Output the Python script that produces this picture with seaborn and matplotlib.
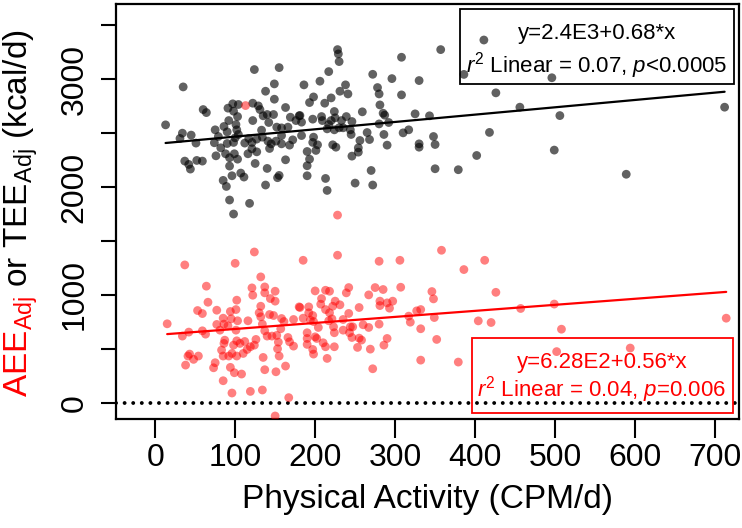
import matplotlib
matplotlib.use("Agg")
import matplotlib.pyplot as plt
from matplotlib.patches import Rectangle
import seaborn as sns

# TEE_Adj (black) vs physical activity
tee_x = [124, 155, 35, 149, 138, 149, 60, 64, 97, 104, 91, 122, 129, 131, 98, 163, 103, 135, 140, 148,
         169, 180, 176, 13, 92, 86, 101, 102, 122, 142, 152, 158, 166, 133, 34, 45, 31, 75, 79, 90,
         100, 104, 117, 112, 121, 127, 134, 141, 145, 151, 158, 172, 168, 158, 51, 74, 82, 90, 98, 143,
         76, 88, 99, 116, 127, 103, 93, 121, 37, 52, 59, 42, 44, 93, 125, 140, 163, 85, 89, 96,
         107, 111, 138, 153, 155, 93, 118, 98,
         228, 229, 230, 308, 357, 217, 272, 186, 206, 238, 296, 330, 278, 280, 198, 193, 220, 231, 241, 308,
         212, 281, 259, 224, 285, 287, 325, 343, 181, 183, 197, 208, 209, 225, 220, 217, 215, 233, 239, 246,
         235, 244, 245, 280, 292, 286, 265, 268, 256, 254, 254, 246, 317, 310, 290, 330, 330, 350, 348, 183,
         198, 197, 203, 201, 190, 193, 190, 190, 222, 226, 213, 215, 250, 272, 270, 350, 379, 230, 224,
         411, 386, 402, 418, 426, 456, 496, 499, 506, 589, 712]
tee_y = [3090, 3108, 2929, 2957, 2889, 2815, 2719, 2691, 2772, 2766, 2732, 2778, 2753, 2719, 2704, 2738, 2654, 2661, 2673, 2673,
         2648, 2661, 2617, 2577, 2617, 2562, 2580, 2531, 2617, 2599, 2556, 2549, 2556, 2528, 2500, 2482, 2451, 2531, 2469, 2512,
         2457, 2488, 2451, 2408, 2414, 2445, 2463, 2426, 2401, 2426, 2478, 2438, 2389, 2401, 2408, 2411, 2364, 2404, 2414, 2358,
         2290, 2309, 2309, 2309, 2327, 2259, 2272, 2355, 2241, 2247, 2241, 2210, 2167, 2195, 2219, 2173, 2253, 2062, 2006, 2105,
         2130, 2093, 2019, 2087, 2108, 1880, 1849, 1750,
         3275, 3235, 3164, 3204, 3275, 3071, 3046, 2948, 2982, 2948, 3006, 2988, 2923, 2864, 2836, 2784, 2827, 2889, 2864, 2855,
         2778, 2762, 2698, 2701, 2685, 2667, 2679, 2661, 2664, 2602, 2630, 2654, 2617, 2642, 2617, 2580, 2540, 2617, 2654, 2608,
         2550, 2531, 2488, 2586, 2599, 2488, 2506, 2441, 2432, 2364, 2324, 2287, 2531, 2503, 2389, 2401, 2370, 2395, 2469, 2478,
         2463, 2414, 2392, 2340, 2330, 2259, 2198, 2105, 2392, 2370, 2080, 1969, 2037, 2019, 2154, 2170, 2161, 2550, 2531,
         3364, 3045, 2293, 2507, 2874, 2741, 3014, 2343, 2663, 2119, 2741]

# AEE_Adj (red) vs physical activity
aee_x = [124, 37, 100, 64, 132, 137, 121, 137, 122, 150, 144, 150, 66, 53, 59, 77, 102, 101, 94, 132,
         130, 143, 132, 180, 15, 34, 42, 59, 63, 85, 86, 95, 103, 91, 101, 81, 77, 116, 134, 137,
         148, 158, 161, 157, 173, 140, 146, 152, 166, 168, 173, 87, 86, 102, 112, 98, 106, 126, 124, 119,
         115, 154, 153, 155, 83, 85, 92, 96, 102, 110, 43, 41, 48, 54, 38, 75, 73, 94, 99, 108,
         135, 137, 151, 163, 85, 96, 119, 134, 167, 150,
         185, 228, 280, 306, 358, 200, 213, 218, 239, 242, 275, 285, 267, 307, 346, 348, 208, 207, 225, 222,
         231, 281, 281, 290, 297, 293, 255, 181, 192, 192, 197, 185, 194, 213, 218, 242, 235, 217, 221, 223,
         204, 198, 244, 247, 235, 243, 260, 267, 280, 224, 224, 246, 255, 258, 253, 269, 286, 290, 190, 190,
         190, 200, 202, 210, 213, 197, 198, 215, 272, 317, 319, 327, 332, 349, 332, 352, 332, 379,
         113, 228, 386, 412, 426, 404, 420, 457, 499, 508, 502, 594, 714]
aee_y = [1398, 1278, 1293, 1081, 1167, 1074, 1065, 1019, 997, 1034, 966, 942, 932, 855, 827, 858, 951, 864, 846, 895,
         834, 818, 797, 889, 732, 618, 655, 667, 636, 784, 729, 778, 760, 713, 673, 673, 726, 760, 729, 667,
         809, 781, 753, 686, 772, 618, 618, 624, 605, 565, 525, 580, 550, 574, 568, 534, 550, 587, 534, 519,
         494, 562, 500, 433, 488, 433, 433, 457, 433, 457, 451, 433, 402, 433, 349, 371, 324, 328, 278, 266,
         420, 306, 287, 340, 204, 90, 105, 118, 47, -123,
         1321, 1368, 1312, 1321, 1414, 1037, 1043, 1034, 1019, 1068, 1068, 1050, 1000, 1071, 1031, 963, 966, 914, 942, 895,
         908, 942, 901, 926, 942, 877, 883, 883, 889, 834, 809, 784, 766, 864, 834, 828, 772, 760, 778, 704,
         698, 753, 704, 704, 673, 649, 723, 698, 729, 649, 519, 605, 599, 581, 513, 497, 534, 596, 649, 596,
         541, 611, 596, 556, 519, 494, 451, 411, 315, 803, 747, 852, 864, 790, 686, 587, 395, 377,
         2756, 1740, 1235, 1321, 1024, 759, 744, 874, 915, 682, 474, 507, 784]

# regression results printed on the chart
tee_fit = (2400, 0.68)
aee_fit = (628, 0.56)
tee_text = ["y=2.4E3+0.68*x", r"$\mathit{r}^{2}$ Linear = 0.07, $\mathit{p}$<0.0005"]
aee_text = ["y=6.28E2+0.56*x", r"$\mathit{r}^{2}$ Linear = 0.04, $\mathit{p}$=0.006"]

x_ticks = [0, 100, 200, 300, 400, 500, 600, 700]
y_ticks = [0, 500, 1000, 1500, 2000, 2500, 3000, 3500]
y_tick_labels = ["0", "", "1000", "", "2000", "", "3000", ""]

RED = "#ff0000"

sns.set_style("ticks")
plt.rcParams["font.family"] = ["Liberation Sans", "DejaVu Sans"]
plt.rcParams["mathtext.fontset"] = "custom"
plt.rcParams["mathtext.rm"] = "Liberation Sans"
plt.rcParams["mathtext.it"] = "Liberation Sans:italic"
for key in ["text.color", "axes.labelcolor", "xtick.color", "ytick.color", "axes.edgecolor"]:
    plt.rcParams[key] = "black"

fig = plt.figure(figsize=(7.42, 5.28), dpi=100)
ax = fig.add_axes([116 / 742, 1 - 419 / 528, 623 / 742, 415 / 528])

sns.scatterplot(x=tee_x, y=tee_y, color="black", alpha=0.62, s=40, edgecolor="none", ax=ax, zorder=3)
sns.scatterplot(x=aee_x, y=aee_y, color=RED, alpha=0.5, s=40, edgecolor="none", ax=ax, zorder=3)

# fitted lines over the observed activity range
for xs, (b0, b1), col in [(tee_x, tee_fit, "black"), (aee_x, aee_fit, RED)]:
    lo, hi = min(xs), max(xs)
    ax.plot([lo, hi], [b0 + b1 * lo, b0 + b1 * hi], color=col, lw=1.6, zorder=4)

ax.axhline(0, color="black", lw=2.8, linestyle=(0, (0.01, 2.2)), dash_capstyle="round", zorder=2)

ax.set_xlim(-49, 730)
ax.set_ylim(-151, 3698)
ax.set_xticks(x_ticks)
ax.set_xticklabels([str(t) for t in x_ticks], fontsize=23)
ax.set_yticks(y_ticks)
ax.set_yticklabels(y_tick_labels, fontsize=23, rotation=90, va="center")
ax.tick_params(axis="x", length=14, width=1.5, pad=3, color="black", labelcolor="black")
ax.tick_params(axis="y", length=11, width=1.5, pad=8, color="black", labelcolor="black")
for sp in ax.spines.values():
    sp.set_linewidth(1.6)
    sp.set_color("black")

ax.set_xlabel("Physical Activity (CPM/d)", fontsize=24, labelpad=8, color="black")

# annotation boxes
ax.add_patch(Rectangle((0.552, 0.807), 0.44, 0.18, transform=ax.transAxes,
                       fill=False, ec="black", lw=1.3, zorder=5))
ax.text(0.772, 0.929, tee_text[0], transform=ax.transAxes, ha="center", va="center", fontsize=16)
ax.text(0.772, 0.852, tee_text[1], transform=ax.transAxes, ha="center", va="center", fontsize=16)
ax.add_patch(Rectangle((0.571, 0.0145), 0.419, 0.181, transform=ax.transAxes,
                       fill=False, ec=RED, lw=1.3, zorder=5))
ax.text(0.78, 0.135, aee_text[0], transform=ax.transAxes, ha="center", va="center", fontsize=16, color=RED)
ax.text(0.78, 0.07, aee_text[1], transform=ax.transAxes, ha="center", va="center", fontsize=16, color=RED)

# two-colour y label, drawn as rotated pieces along one baseline
fig.canvas.draw()
renderer = fig.canvas.get_renderer()
x0, y0 = 28 / 742, (528 - 397) / 528
t1 = fig.text(x0, y0, r"AEE$_{\mathrm{Adj}}$", color=RED, fontsize=24, rotation=90,
              rotation_mode="anchor", ha="left", va="baseline")
bb = t1.get_window_extent(renderer)
y1 = y0 + bb.height / fig.bbox.height
fig.text(x0, y1, r" or TEE$_{\mathrm{Adj}}$ (kcal/d)", color="black", fontsize=24, rotation=90,
         rotation_mode="anchor", ha="left", va="baseline")

fig.savefig("out.png", dpi=100)
